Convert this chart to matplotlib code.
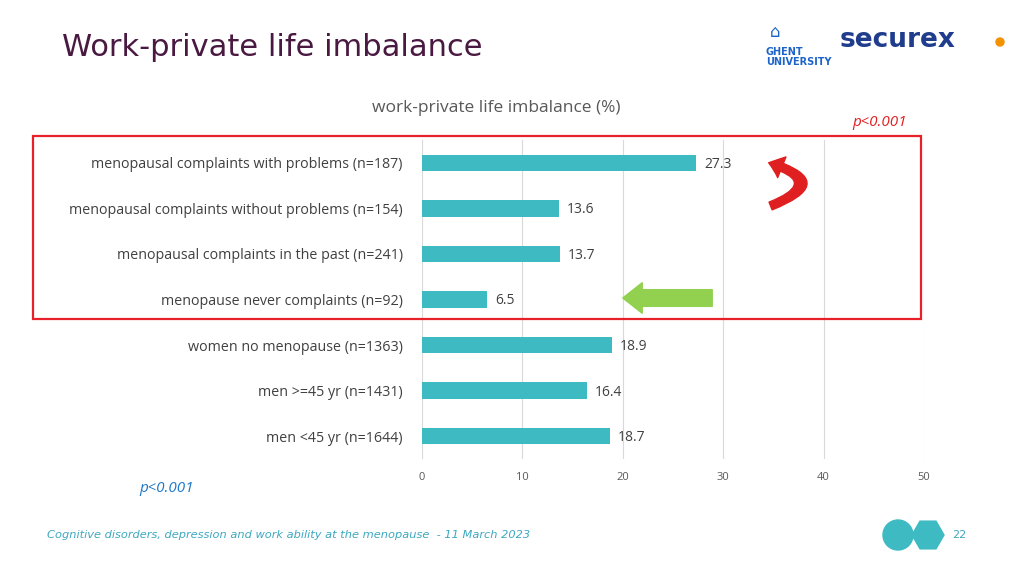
import matplotlib
matplotlib.use("Agg")
import matplotlib.pyplot as plt
from matplotlib.patches import Rectangle, FancyArrowPatch, Ellipse, Polygon
import numpy as np

categories = ["menopausal complaints with problems (n=187)",
              "menopausal complaints without problems (n=154)",
              "menopausal complaints in the past (n=241)",
              "menopause never complaints (n=92)",
              "women no menopause (n=1363)",
              "men >=45 yr (n=1431)",
              "men <45 yr (n=1644)"]
values = [27.3, 13.6, 13.7, 6.5, 18.9, 16.4, 18.7]
xticks = [0, 10, 20, 30, 40, 50]

W, H = 1024, 576
fig = plt.figure(figsize=(10.24, 5.76), dpi=100)
fig.patch.set_facecolor("white")
font = "Open Sans"

def fx(x): return x / W
def fy(y): return 1 - y / H

ax = fig.add_axes([fx(422), fy(459), (924 - 422) / W, (459 - 140) / H])
ypos = list(range(len(categories)))
ax.barh(ypos, values, height=0.36, color="#3DBAC2", zorder=3)
ax.set_ylim(len(categories) - 0.5, -0.5)
ax.set_xlim(0, 50)
ax.set_xticks(xticks)
ax.set_xticklabels([str(t) for t in xticks], fontsize=8, color="#595959", family=font)
ax.set_yticks(ypos)
ax.set_yticklabels(categories, fontsize=10.3, color="#404040", family=font)
ax.tick_params(length=0, pad=14, axis="y")
ax.tick_params(length=0, pad=9, axis="x")
ax.grid(axis="x", color="#D9D9D9", lw=0.8, zorder=0)
for s in ax.spines.values():
    s.set_visible(False)
for y, v in zip(ypos, values):
    ax.text(v + 0.8, y + 0.03, f"{v}", va="center", ha="left", fontsize=10, color="#404040", family=font)

fig.text(fx(62), fy(47), "Work-private life imbalance", fontsize=22, color="#4A1942",
         family="DejaVu Sans", va="center")
fig.text(fx(496), fy(108), "work-private life imbalance (%)", fontsize=12.5, color="#595959",
         family=font, ha="center", va="center")
fig.text(fx(880), fy(122), "p<0.001", fontsize=11, color="#E02020", style="italic",
         family=font, ha="center", va="center")
fig.text(fx(167), fy(489), "p<0.001", fontsize=11, color="#1F78C8", style="italic",
         family=font, ha="center", va="center")
fig.text(fx(47), fy(535), "Cognitive disorders, depression and work ability at the menopause  - 11 March 2023",
         fontsize=8.2, color="#3DA8C0", style="italic", family="DejaVu Sans", va="center")
fig.text(fx(959), fy(535), "22", fontsize=8, color="#3DA8C0", ha="center", va="center")

# red box
fig.patches.append(Rectangle((fx(33), fy(319)), (921 - 33) / W, (319 - 136) / H,
                             transform=fig.transFigure, fill=False, ec="#E8202A", lw=1.6))
# red curved arrow
fig.patches.append(FancyArrowPatch((fx(768), fy(207)), (fx(766), fy(162)),
                                   connectionstyle="arc3,rad=1.5", transform=fig.transFigure,
                                   arrowstyle="simple,head_width=16,head_length=10,tail_width=6",
                                   color="#E02020"))
# green arrow
fig.patches.append(FancyArrowPatch((fx(715), fy(298)), (fx(620), fy(298)), transform=fig.transFigure,
                                   arrowstyle="simple,head_width=22,head_length=14,tail_width=12",
                                   color="#92D050"))
# bottom shapes
fig.patches.append(Ellipse((fx(898), fy(535)), 30 / W, 30 / H, transform=fig.transFigure, color="#3DBAC2"))
ang = np.deg2rad(np.arange(0, 360, 60))
hexpts = [(fx(928 + 16 * np.cos(a)), fy(535 + 16 * np.sin(a))) for a in ang]
fig.patches.append(Polygon(hexpts, closed=True, transform=fig.transFigure, color="#3DBAC2"))
# logos
fig.text(fx(766), fy(47), "GHENT\nUNIVERSITY", fontsize=7, color="#1E64C8", fontweight="bold",
         va="top", linespacing=1.0)
fig.text(fx(775), fy(32), "\u2302", fontsize=12, color="#1E64C8", ha="center", va="center")
fig.text(fx(840), fy(40), "securex", fontsize=19, color="#1F3D8C", fontweight="bold",
         family="DejaVu Sans", va="center")
fig.patches.append(Ellipse((fx(1000), fy(42)), 8 / W, 8 / H, transform=fig.transFigure, color="#F39200"))

fig.savefig("out.png", dpi=100)
